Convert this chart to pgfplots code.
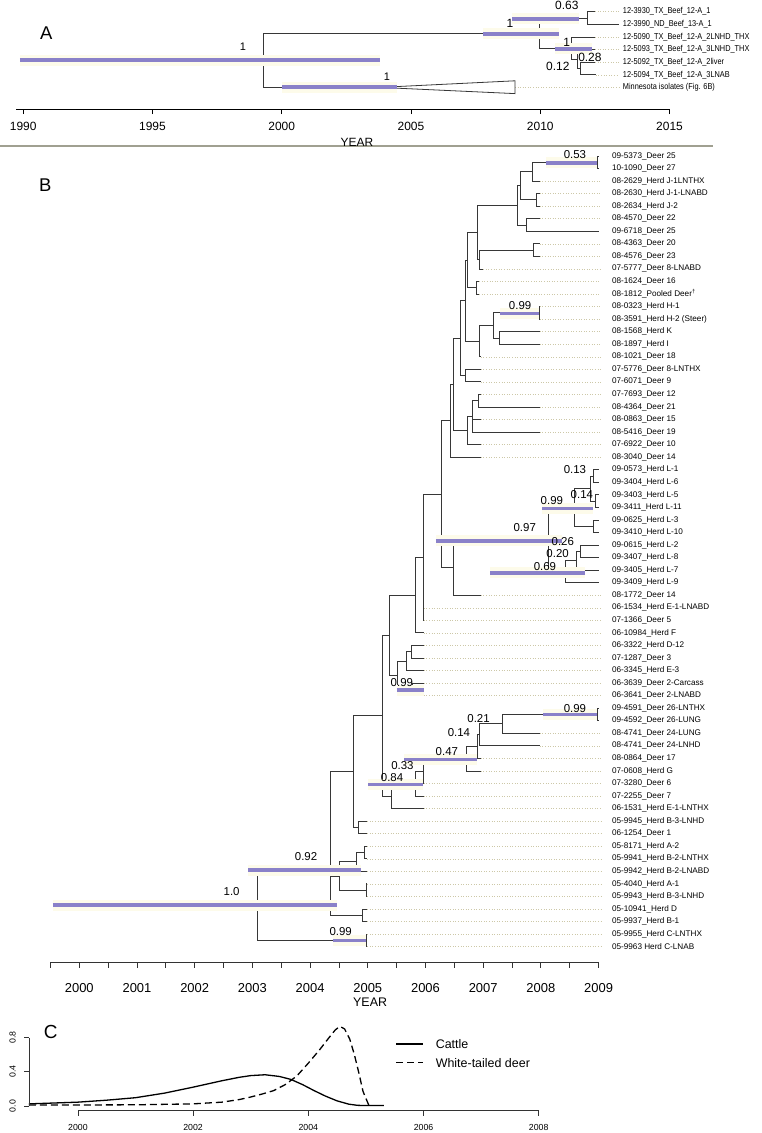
\documentclass[border=0pt]{standalone}
\usepackage{fontspec}
\setmainfont{Liberation Sans}
\newfontfamily\narrowfont[FakeStretch=0.86]{Liberation Sans}
\usepackage{pgfplots}
\pgfplotsset{compat=1.18}
\definecolor{barc}{RGB}{118,108,196}
\definecolor{halo}{RGB}{253,251,234}
\definecolor{treec}{RGB}{55,55,55}
\definecolor{dotc}{RGB}{205,200,168}
\definecolor{sepc}{RGB}{160,160,145}
\newcommand{\fs}[1]{\fontsize{#1}{#1}\selectfont}
\pgfplotsset{
  treeline/.style={treec, line width=0.9bp, unbounded coords=jump, forget plot},
  dotline/.style={dotc, dotted, line width=0.6bp, unbounded coords=jump, forget plot},
  barline/.style={barc, opacity=0.85, line width=4bp, unbounded coords=jump, forget plot},
  haloline/.style={halo, line width=11bp, unbounded coords=jump, forget plot},
}
\newcommand{\bl}[2]{\node[anchor=west,inner sep=0pt,font=\fs{8.2}] at (axis cs:2009.23,-#1) {#2};}
\newcommand{\al}[2]{\node[anchor=west,inner sep=0pt,font=\narrowfont\fs{8.6}] at (axis cs:2013.19,-#1) {#2};}
\newcommand{\pp}[4]{\node[inner sep=0pt,font=\fs{#4}] at (axis cs:#1,-#2) {#3};}
\begin{document}
\begin{tikzpicture}
\useasboundingbox (0,0) rectangle (762bp,-1133bp);
% ================= Panel A =================
\begin{axis}[
  at={(16bp,-109bp)}, anchor=south west, scale only axis,
  width=653.5bp, height=109bp,
  xmin=1989.72, xmax=2015, ymin=-109, ymax=0,
  clip=false,
  axis x line=bottom, axis y line=none,
  axis line style={-, black, line width=0.8bp},
  xtick={1990,1995,2000,2005,2010,2015}, ytick=\empty,
  tick align=outside, major tick length=5bp,
  tick style={black, line width=0.8bp},
  /pgf/number format/1000 sep={},
  /pgf/number format/assume math mode=true,
  xticklabel style={font=\fs{12}, yshift=-5bp},
]
% separator line
\addplot[sepc, line width=1.6bp, forget plot] coordinates {(1989.10,-146) (2016.68,-146)};
% dotted guides
\addplot[dotline] coordinates {
 (2012.12,-11.7) (2013.05,-11.7) (2013,nan)
 (2012.12,-37) (2013.05,-37) (2013,nan)
 (2012.12,-49.6) (2013.05,-49.6) (2013,nan)
 (2012.12,-62.2) (2013.05,-62.2) (2013,nan)
 (2012.15,-74.8) (2013.05,-74.8) (2013,nan)
 (2009.02,-87.4) (2013.05,-87.4)};
% tree
\addplot[treeline] coordinates {
 (2012.12,-11.7) (2011.82,-11.7) (2011.82,-24.3) (2013.05,-24.3) (2010,nan)
 (2012.12,-62.2) (2011.54,-62.2) (2011.54,-74.8) (2012.15,-74.8) (2010,nan)
 (2012.12,-49.6) (2011.42,-49.6) (2011.42,-68.5) (2011.54,-68.5) (2010,nan)
 (2012.12,-37) (2011.21,-37) (2011.21,-59) (2011.42,-59) (2010,nan)
 (2011.82,-18) (2009.96,-18) (2009.96,-48) (2011.21,-48) (2010,nan)
 (2009.96,-33) (1999.28,-33) (1999.28,-87.4) (2003.80,-87.4)};
\addplot[treec, line width=0.8bp, fill=white, forget plot] coordinates {
 (2003.80,-87.4) (2009.02,-80.8) (2009.02,-93.6) (2003.80,-87.4)};
% HPD bars
\addplot[haloline] coordinates {
 (1989.87,-60) (2003.80,-60) (2000,nan)
 (2000.01,-87.4) (2004.46,-87.4) (2000,nan)
 (2007.78,-33.5) (2010.71,-33.5) (2000,nan)
 (2008.91,-19) (2011.50,-19) (2000,nan)
 (2010.57,-48.5) (2011.99,-48.5)};
\addplot[barline] coordinates {
 (1989.87,-60) (2003.80,-60) (2000,nan)
 (2000.01,-87.4) (2004.46,-87.4) (2000,nan)
 (2007.78,-33.5) (2010.71,-33.5) (2000,nan)
 (2008.91,-19) (2011.50,-19) (2000,nan)
 (2010.57,-48.5) (2011.99,-48.5)};
\pp{1998.50}{47}{1}{11}
\pp{2004.07}{77}{1}{11}
\pp{2008.83}{23}{1}{12}
\pp{2011.03}{5.5}{0.63}{12}
\pp{2011.02}{42}{1}{12}
\pp{2011.92}{57}{0.28}{12}
\pp{2010.68}{66.7}{0.12}{12}
\pp{1990.89}{33}{A}{18.5}
\pp{2002.91}{142}{YEAR}{12}
\al{11.7}{12-3930\_TX\_Beef\_12-A\_1}
\al{24.3}{12-3990\_ND\_Beef\_13-A\_1}
\al{37}{12-5090\_TX\_Beef\_12-A\_2LNHD\_THX}
\al{49.6}{12-5093\_TX\_Beef\_12-A\_3LNHD\_THX}
\al{62.2}{12-5092\_TX\_Beef\_12-A\_2liver}
\al{74.8}{12-5094\_TX\_Beef\_12-A\_3LNAB}
\al{87.4}{Minnesota isolates (Fig. 6B)}
\end{axis}
% ================= Panel B =================
\begin{axis}[
  at={(50.45bp,-962.7bp)}, anchor=south west, scale only axis,
  width=548.15bp, height=822.7bp,
  xmin=1999.5, xmax=2009, ymin=-962.7, ymax=-140,
  clip=false,
  axis x line=bottom, axis y line=none,
  axis line style={-, black!80, line width=0.8bp},
  xtick={2000,2001,...,2009}, ytick=\empty,
  minor xtick={1999.5,2000.5,2001.5,2002.5,2003.5,2004.5,2005.5,2006.5,2007.5,2008.5},
  tick align=outside, major tick length=5bp, minor tick length=5bp,
  tick style={black!80, line width=0.8bp},
  /pgf/number format/1000 sep={},
  /pgf/number format/assume math mode=true,
  xticklabel style={font=\fs{13}, yshift=-12bp},
]
\addplot[dotline] coordinates {
 (2007.98,-181.1) (2009.04,-181.1) (2000,nan)
 (2007.98,-193.65) (2009.04,-193.65) (2000,nan)
 (2007.98,-206.2) (2009.04,-206.2) (2000,nan)
 (2007.98,-218.75) (2009.04,-218.75) (2000,nan)
 (2007.98,-243.85) (2009.04,-243.85) (2000,nan)
 (2007.98,-256.4) (2009.04,-256.4) (2000,nan)
 (2007.00,-268.95) (2009.04,-268.95) (2000,nan)
 (2006.93,-281.5) (2009.04,-281.5) (2000,nan)
 (2006.93,-294.05) (2009.04,-294.05) (2000,nan)
 (2007.98,-306.6) (2009.04,-306.6) (2000,nan)
 (2007.98,-319.15) (2009.04,-319.15) (2000,nan)
 (2007.98,-331.7) (2009.04,-331.7) (2000,nan)
 (2007.98,-344.25) (2009.04,-344.25) (2000,nan)
 (2006.96,-356.8) (2009.04,-356.8) (2000,nan)
 (2006.96,-369.35) (2009.04,-369.35) (2000,nan)
 (2006.96,-381.9) (2009.04,-381.9) (2000,nan)
 (2006.96,-394.45) (2009.04,-394.45) (2000,nan)
 (2007.98,-407) (2009.04,-407) (2000,nan)
 (2006.96,-419.55) (2009.04,-419.55) (2000,nan)
 (2007.98,-432.1) (2009.04,-432.1) (2000,nan)
 (2006.96,-444.65) (2009.04,-444.65) (2000,nan)
 (2006.96,-457.2) (2009.04,-457.2) (2000,nan)
 (2006.96,-595.25) (2009.04,-595.25) (2000,nan)
 (2005.97,-607.8) (2009.04,-607.8) (2000,nan)
 (2005.97,-620.35) (2009.04,-620.35) (2000,nan)
 (2005.97,-632.9) (2009.04,-632.9) (2000,nan)
 (2005.97,-645.45) (2009.04,-645.45) (2000,nan)
 (2005.97,-658) (2009.04,-658) (2000,nan)
 (2005.97,-670.55) (2009.04,-670.55) (2000,nan)
 (2005.97,-683.1) (2009.04,-683.1) (2000,nan)
 (2005.97,-695.65) (2009.04,-695.65) (2000,nan)
 (2007.98,-733.3) (2009.04,-733.3) (2000,nan)
 (2007.98,-745.85) (2009.04,-745.85) (2000,nan)
 (2006.96,-758.4) (2009.04,-758.4) (2000,nan)
 (2006.96,-770.95) (2009.04,-770.95) (2000,nan)
 (2005.97,-783.5) (2009.04,-783.5) (2000,nan)
 (2005.97,-796.05) (2009.04,-796.05) (2000,nan)
 (2005.97,-808.6) (2009.04,-808.6) (2000,nan)
 (2004.99,-821.15) (2009.04,-821.15) (2000,nan)
 (2004.99,-833.7) (2009.04,-833.7) (2000,nan)
 (2004.99,-846.25) (2009.04,-846.25) (2000,nan)
 (2004.99,-858.8) (2009.04,-858.8) (2000,nan)
 (2004.99,-871.35) (2009.04,-871.35) (2000,nan)
 (2004.99,-883.9) (2009.04,-883.9) (2000,nan)
 (2004.99,-896.45) (2009.04,-896.45) (2000,nan)
 (2004.99,-909) (2009.04,-909) (2000,nan)
 (2004.99,-921.55) (2009.04,-921.55) (2000,nan)
 (2004.99,-934.1) (2009.04,-934.1) (2000,nan)
 (2004.99,-946.65) (2009.04,-946.65)};
\addplot[treeline] coordinates {
 (2009.00,-156) (2008.98,-156) (2008.98,-168.55) (2009.00,-168.55) (2000,nan)
 (2008.98,-162.3) (2007.86,-162.3) (2007.86,-181.1) (2007.98,-181.1) (2000,nan)
 (2007.98,-193.65) (2007.93,-193.65) (2007.93,-206.2) (2007.98,-206.2) (2000,nan)
 (2007.98,-218.75) (2007.75,-218.75) (2007.75,-231.3) (2009.00,-231.3) (2000,nan)
 (2007.86,-171.7) (2007.64,-171.7) (2007.64,-199.9) (2007.93,-199.9) (2000,nan)
 (2007.64,-185.8) (2007.59,-185.8) (2007.59,-225.0) (2007.75,-225.0) (2000,nan)
 (2007.98,-243.85) (2007.87,-243.85) (2007.87,-256.4) (2007.98,-256.4) (2000,nan)
 (2007.87,-250.1) (2006.93,-250.1) (2006.93,-268.95) (2007.00,-268.95) (2000,nan)
 (2007.59,-205.4) (2006.90,-205.4) (2006.90,-259.5) (2006.93,-259.5) (2000,nan)
 (2006.93,-281.5) (2006.89,-281.5) (2006.89,-294.05) (2006.93,-294.05) (2000,nan)
 (2006.90,-232.5) (2006.72,-232.5) (2006.72,-287.8) (2006.89,-287.8) (2000,nan)
 (2007.98,-306.6) (2007.97,-306.6) (2007.97,-319.15) (2007.98,-319.15) (2000,nan)
 (2007.98,-331.7) (2007.28,-331.7) (2007.28,-344.25) (2007.98,-344.25) (2000,nan)
 (2007.97,-312.9) (2007.18,-312.9) (2007.18,-338.0) (2007.28,-338.0) (2000,nan)
 (2007.18,-325.4) (2006.94,-325.4) (2006.94,-356.8) (2006.96,-356.8) (2000,nan)
 (2006.72,-260.2) (2006.70,-260.2) (2006.70,-341.1) (2006.94,-341.1) (2000,nan)
 (2006.96,-369.35) (2006.70,-369.35) (2006.70,-381.9) (2006.96,-381.9) (2000,nan)
 (2006.70,-300.7) (2006.60,-300.7) (2006.60,-375.6) (2006.70,-375.6) (2000,nan)
 (2006.96,-394.45) (2006.91,-394.45) (2006.91,-407) (2007.98,-407) (2000,nan)
 (2006.91,-400.7) (2006.81,-400.7) (2006.81,-432.1) (2007.98,-432.1) (2000,nan)
 (2006.81,-419.55) (2006.96,-419.55) (2000,nan)
 (2006.81,-416.4) (2006.73,-416.4) (2006.73,-444.65) (2006.96,-444.65) (2000,nan)
 (2006.60,-338.2) (2006.48,-338.2) (2006.48,-430.5) (2006.73,-430.5) (2000,nan)
 (2006.48,-384.4) (2006.44,-384.4) (2006.44,-457.2) (2006.96,-457.2) (2000,nan)
 (2009,-469.75) (2008.91,-469.75) (2008.91,-482.3) (2009,-482.3) (2000,nan)
 (2009,-494.85) (2008.95,-494.85) (2008.95,-507.4) (2009,-507.4) (2000,nan)
 (2008.91,-476.0) (2008.86,-476.0) (2008.86,-501.1) (2008.95,-501.1) (2000,nan)
 (2009,-519.95) (2008.91,-519.95) (2008.91,-532.5) (2009,-532.5) (2000,nan)
 (2008.86,-488.6) (2008.58,-488.6) (2008.58,-526.2) (2008.91,-526.2) (2000,nan)
 (2009,-545.05) (2008.68,-545.05) (2008.68,-557.6) (2009,-557.6) (2000,nan)
 (2008.68,-551.3) (2008.61,-551.3) (2008.61,-570.15) (2009,-570.15) (2000,nan)
 (2008.61,-560.7) (2008.42,-560.7) (2008.42,-582.7) (2009,-582.7) (2000,nan)
 (2008.58,-507.4) (2008.13,-507.4) (2008.13,-571.7) (2008.42,-571.7) (2000,nan)
 (2008.13,-539.6) (2006.49,-539.6) (2006.49,-595.25) (2006.96,-595.25) (2000,nan)
 (2006.44,-420.8) (2006.28,-420.8) (2006.28,-567.4) (2006.49,-567.4) (2000,nan)
 (2006.28,-494.1) (2005.96,-494.1) (2005.96,-620.35) (2005.97,-620.35) (2000,nan)
 (2005.96,-557.2) (2005.82,-557.2) (2005.82,-632.9) (2005.97,-632.9) (2000,nan)
 (2005.97,-645.45) (2005.76,-645.45) (2005.76,-658) (2005.97,-658) (2000,nan)
 (2005.76,-651.7) (2005.67,-651.7) (2005.67,-670.55) (2005.97,-670.55) (2000,nan)
 (2005.97,-683.1) (2005.77,-683.1) (2005.77,-695.65) (2005.97,-695.65) (2000,nan)
 (2005.67,-661.1) (2005.51,-661.1) (2005.51,-689.4) (2005.77,-689.4) (2000,nan)
 (2005.82,-595.1) (2005.38,-595.1) (2005.38,-675.3) (2005.51,-675.3) (2000,nan)
 (2009,-708.2) (2008.98,-708.2) (2008.98,-720.75) (2009,-720.75) (2000,nan)
 (2008.98,-714.5) (2007.34,-714.5) (2007.34,-733.3) (2007.98,-733.3) (2000,nan)
 (2007.34,-723.9) (2006.94,-723.9) (2006.94,-745.85) (2007.98,-745.85) (2000,nan)
 (2006.94,-734.9) (2006.90,-734.9) (2006.90,-758.4) (2006.96,-758.4) (2000,nan)
 (2006.90,-746.7) (2006.71,-746.7) (2006.71,-770.95) (2006.96,-770.95) (2000,nan)
 (2006.71,-758.8) (2005.96,-758.8) (2005.96,-783.5) (2005.97,-783.5) (2000,nan)
 (2005.96,-771.2) (2005.82,-771.2) (2005.82,-796.05) (2005.97,-796.05) (2000,nan)
 (2005.82,-783.6) (2005.41,-783.6) (2005.41,-808.6) (2005.97,-808.6) (2000,nan)
 (2005.38,-635.2) (2005.26,-635.2) (2005.26,-796.1) (2005.41,-796.1) (2000,nan)
 (2004.99,-821.15) (2004.84,-821.15) (2004.84,-833.7) (2004.99,-833.7) (2000,nan)
 (2005.26,-715.7) (2004.75,-715.7) (2004.75,-827.4) (2004.84,-827.4) (2000,nan)
 (2004.99,-846.25) (2004.94,-846.25) (2004.94,-858.8) (2004.99,-858.8) (2000,nan)
 (2004.94,-852.5) (2004.81,-852.5) (2004.81,-871.35) (2004.99,-871.35) (2000,nan)
 (2004.99,-883.9) (2004.97,-883.9) (2004.97,-896.45) (2004.99,-896.45) (2000,nan)
 (2004.81,-861.9) (2004.51,-861.9) (2004.51,-890.2) (2004.97,-890.2) (2000,nan)
 (2004.99,-909) (2004.91,-909) (2004.91,-921.55) (2004.99,-921.55) (2000,nan)
 (2004.75,-771.6) (2004.35,-771.6) (2004.35,-915.3) (2004.91,-915.3) (2000,nan)
 (2004.35,-876.0) (2004.51,-876.0) (2000,nan)
 (2004.35,-870) (2003.09,-870) (2003.09,-940.4) (2004.97,-940.4) (2000,nan)
 (2004.99,-934.1) (2004.97,-934.1) (2004.97,-946.65) (2004.99,-946.65)};
\addplot[haloline] coordinates {
 (2008.08,-163) (2008.98,-163) (2000,nan)
 (2007.29,-313.5) (2007.97,-313.5) (2000,nan)
 (2008.02,-508.5) (2008.91,-508.5) (2000,nan)
 (2006.18,-540.7) (2008.36,-540.7) (2000,nan)
 (2007.12,-572.7) (2008.76,-572.7) (2000,nan)
 (2005.50,-690) (2005.97,-690) (2000,nan)
 (2008.04,-714.3) (2008.98,-714.3) (2000,nan)
 (2005.63,-759.3) (2006.90,-759.3) (2000,nan)
 (2005.01,-784.3) (2005.96,-784.3) (2000,nan)
 (2002.93,-870) (2004.88,-870) (2000,nan)
 (1999.54,-905) (2004.46,-905) (2000,nan)
 (2004.39,-940.5) (2004.97,-940.5)};
\addplot[barline, line width=3.6bp] coordinates {
 (2008.08,-163) (2008.98,-163) (2000,nan)
 (2007.29,-313.5) (2007.97,-313.5) (2000,nan)
 (2008.02,-508.5) (2008.91,-508.5) (2000,nan)
 (2006.18,-540.7) (2008.36,-540.7) (2000,nan)
 (2007.12,-572.7) (2008.76,-572.7) (2000,nan)
 (2005.50,-690) (2005.97,-690) (2000,nan)
 (2008.04,-714.3) (2008.98,-714.3) (2000,nan)
 (2005.63,-759.3) (2006.90,-759.3) (2000,nan)
 (2005.01,-784.3) (2005.96,-784.3) (2000,nan)
 (2002.93,-870) (2004.88,-870) (2000,nan)
 (1999.54,-905) (2004.46,-905) (2000,nan)
 (2004.39,-940.5) (2004.97,-940.5)};
\pp{2008.59}{155}{0.53}{11.5}
\pp{2007.64}{305.7}{0.99}{11.5}
\pp{2008.59}{470}{0.13}{11.5}
\pp{2008.71}{494.3}{0.14}{11.5}
\pp{2008.19}{501}{0.99}{11.5}
\pp{2007.72}{527.3}{0.97}{11.5}
\pp{2008.38}{541.7}{0.26}{11.5}
\pp{2008.29}{553.3}{0.20}{11.5}
\pp{2008.07}{566.7}{0.69}{11.5}
\pp{2005.59}{682.3}{0.99}{11.5}
\pp{2008.59}{708.3}{0.99}{11.5}
\pp{2006.92}{718.3}{0.21}{11.5}
\pp{2006.58}{732.7}{0.14}{11.5}
\pp{2006.37}{751.7}{0.47}{11.5}
\pp{2005.60}{766}{0.33}{11.5}
\pp{2005.42}{777.7}{0.84}{11.5}
\pp{2003.93}{856.7}{0.92}{11.5}
\pp{2002.64}{891.7}{1.0}{11.5}
\pp{2004.53}{931.7}{0.99}{11.5}
\pp{1999.41}{185}{B}{18.5}
\pp{2005.04}{1002.7}{YEAR}{12.5}
\bl{156}{09-5373\_Deer 25}
\bl{168.55}{10-1090\_Deer 27}
\bl{181.1}{08-2629\_Herd J-1LNTHX}
\bl{193.65}{08-2630\_Herd J-1-LNABD}
\bl{206.2}{08-2634\_Herd J-2}
\bl{218.75}{08-4570\_Deer 22}
\bl{231.3}{09-6718\_Deer 25}
\bl{243.85}{08-4363\_Deer 20}
\bl{256.4}{08-4576\_Deer 23}
\bl{268.95}{07-5777\_Deer 8-LNABD}
\bl{281.5}{08-1624\_Deer 16}
\bl{294.05}{08-1812\_Pooled Deer\textsuperscript{†}}
\bl{306.6}{08-0323\_Herd H-1}
\bl{319.15}{08-3591\_Herd H-2 (Steer)}
\bl{331.7}{08-1568\_Herd K}
\bl{344.25}{08-1897\_Herd I}
\bl{356.8}{08-1021\_Deer 18}
\bl{369.35}{07-5776\_Deer 8-LNTHX}
\bl{381.9}{07-6071\_Deer 9}
\bl{394.45}{07-7693\_Deer 12}
\bl{407}{08-4364\_Deer 21}
\bl{419.55}{08-0863\_Deer 15}
\bl{432.1}{08-5416\_Deer 19}
\bl{444.65}{07-6922\_Deer 10}
\bl{457.2}{08-3040\_Deer 14}
\bl{469.75}{09-0573\_Herd L-1}
\bl{482.3}{09-3404\_Herd L-6}
\bl{494.85}{09-3403\_Herd L-5}
\bl{507.4}{09-3411\_Herd L-11}
\bl{519.95}{09-0625\_Herd L-3}
\bl{532.5}{09-3410\_Herd L-10}
\bl{545.05}{09-0615\_Herd L-2}
\bl{557.6}{09-3407\_Herd L-8}
\bl{570.15}{09-3405\_Herd L-7}
\bl{582.7}{09-3409\_Herd L-9}
\bl{595.25}{08-1772\_Deer 14}
\bl{607.8}{06-1534\_Herd E-1-LNABD}
\bl{620.35}{07-1366\_Deer 5}
\bl{632.9}{06-10984\_Herd F}
\bl{645.45}{06-3322\_Herd D-12}
\bl{658}{07-1287\_Deer 3}
\bl{670.55}{06-3345\_Herd E-3}
\bl{683.1}{06-3639\_Deer 2-Carcass}
\bl{695.65}{06-3641\_Deer 2-LNABD}
\bl{708.2}{09-4591\_Deer 26-LNTHX}
\bl{720.75}{09-4592\_Deer 26-LUNG}
\bl{733.3}{08-4741\_Deer 24-LUNG}
\bl{745.85}{08-4741\_Deer 24-LNHD}
\bl{758.4}{08-0864\_Deer 17}
\bl{770.95}{07-0608\_Herd G}
\bl{783.5}{07-3280\_Deer 6}
\bl{796.05}{07-2255\_Deer 7}
\bl{808.6}{06-1531\_Herd E-1-LNTHX}
\bl{821.15}{05-9945\_Herd B-3-LNHD}
\bl{833.7}{06-1254\_Deer 1}
\bl{846.25}{05-8171\_Herd A-2}
\bl{858.8}{05-9941\_Herd B-2-LNTHX}
\bl{871.35}{05-9942\_Herd B-2-LNABD}
\bl{883.9}{05-4040\_Herd A-1}
\bl{896.45}{05-9943\_Herd B-3-LNHD}
\bl{909}{05-10941\_Herd D}
\bl{921.55}{05-9937\_Herd B-1}
\bl{934.1}{05-9955\_Herd C-LNTHX}
\bl{946.65}{05-9963 Herd C-LNAB}
\end{axis}
% ================= Panel C =================
\begin{axis}[
  at={(77.9bp,-1110.7bp)}, anchor=south west, scale only axis,
  width=460.8bp, height=73.2bp,
  xmin=2000, xmax=2008, ymin=-0.055, ymax=0.8,
  clip=false,
  axis x line=bottom, axis y line=none,
  axis line style={-, black!80, line width=0.7bp},
  xtick={2000,2002,2004,2006,2008}, ytick=\empty,
  tick align=outside, major tick length=5bp,
  tick style={black!80, line width=0.7bp},
  /pgf/number format/1000 sep={},
  /pgf/number format/assume math mode=true,
  xticklabel style={font=\fs{8.8}, yshift=-5bp},
]
\addplot[black, line width=1.3bp, forget plot] coordinates {
 (1999.15,0.025) (1999.5,0.033) (2000,0.045) (2000.5,0.068) (2001,0.097)
 (2001.5,0.15) (2002,0.22) (2002.5,0.295) (2002.8,0.335) (2003,0.355)
 (2003.25,0.365) (2003.5,0.345) (2003.7,0.31) (2003.9,0.25) (2004.1,0.18)
 (2004.3,0.115) (2004.5,0.06) (2004.7,0.022) (2004.85,0.008) (2005,0.005) (2005.31,0.005)};
\addplot[black, line width=1.3bp, dash pattern=on 7bp off 4bp, forget plot] coordinates {
 (1999.15,0.012) (2000,0.012) (2001,0.014) (2002,0.025) (2002.5,0.045)
 (2002.8,0.075) (2003,0.105) (2003.2,0.14) (2003.4,0.18) (2003.6,0.25)
 (2003.8,0.35) (2004,0.50) (2004.2,0.66) (2004.35,0.79) (2004.47,0.89)
 (2004.55,0.93) (2004.63,0.90) (2004.72,0.78) (2004.8,0.60) (2004.88,0.38)
 (2004.95,0.17) (2005.05,0.01)};
% legend samples
\addplot[black, line width=1.3bp, forget plot] coordinates {(2005.53,0.724) (2005.995,0.724)};
\addplot[black, line width=1.3bp, dash pattern=on 7bp off 4bp, forget plot] coordinates {(2005.53,0.506) (2005.995,0.506)};
\node[anchor=west, inner sep=0pt, font=\fs{12.5}] at (axis cs:2006.21,0.724) {Cattle};
\node[anchor=west, inner sep=0pt, font=\fs{12.5}] at (axis cs:2006.21,0.506) {White-tailed deer};
\node[inner sep=0pt, font=\fs{19}] at (axis cs:1999.53,0.868) {C};
\end{axis}
\begin{axis}[
  at={(29.2bp,-1106bp)}, anchor=south west, scale only axis,
  width=48.7bp, height=68.5bp,
  xmin=0, xmax=1, ymin=0, ymax=0.8,
  clip=false,
  axis y line=left, axis x line=none,
  axis line style={-, black!80, line width=0.7bp},
  xtick=\empty, ytick={0,0.4,0.8}, yticklabels={0.0,0.4,0.8},
  tick align=outside, major tick length=5bp,
  tick style={black!80, line width=0.7bp},
  yticklabel style={font=\fs{8.8}, rotate=90, anchor=south, yshift=5bp},
]
\addplot[draw=none, forget plot] coordinates {(0,0) (1,0.8)};
\end{axis}
\end{tikzpicture}
\end{document}
